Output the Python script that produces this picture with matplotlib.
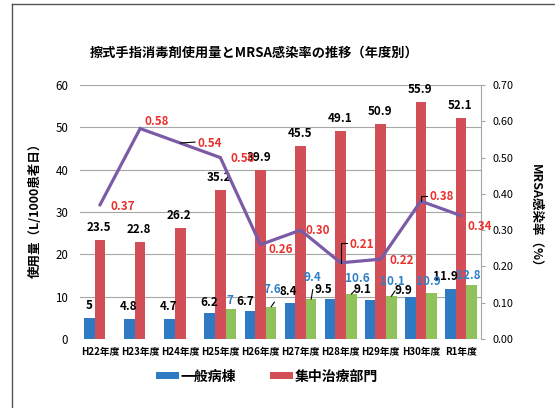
import matplotlib
matplotlib.use('Agg')
import matplotlib.pyplot as plt
from matplotlib.lines import Line2D
import numpy as np

plt.rcParams['font.family'] = ['Noto Sans CJK JP', 'DejaVu Sans']

years = ['H22年度', 'H23年度', 'H24年度', 'H25年度', 'H26年度',
         'H27年度', 'H28年度', 'H29年度', 'H30年度', 'R1年度']
generalWard = [5, 4.8, 4.7, 6.2, 6.7, 8.4, 9.5, 9.1, 9.9, 11.9]
icuDept = [23.5, 22.8, 26.2, 35.2, 39.9, 45.5, 49.1, 50.9, 55.9, 52.1]
thirdSeries = [None, None, None, 7, 7.6, 9.4, 10.6, 10.1, 10.9, 12.8]
mrsaRate = [0.37, 0.58, 0.54, 0.50, 0.26, 0.30, 0.21, 0.22, 0.38, 0.34]

BLUE = '#2E7BC4'
RED = '#D24F58'
GREEN = '#8FC25A'
PURPLE = '#7B5BA6'
RED_TEXT = '#E8322E'
BLUE_TEXT = '#2F7FC8'
GRID = '#A6A6A6'

# label offsets in pixels (x, y up) from the top of each mark
blueOffsets = [(0, 12), (-1, 12.5), (-1, 12.5), (0, 10), (-4.5, 9.6),
               (-2, 11.7), (-7, 8.8), (-8, 10.5), (-6.4, 7), (-4.6, 12.6)]
greenOffsets = {3: (-1.4, 8.7), 4: (1.4, 17.8), 5: (1, 22), 6: (5.6, 16),
                7: (0.7, 14.5), 8: (-3.5, 11.2), 9: (-3.7, 9.8)}
redOffset = (-1, 12.5)
mrsaOffsets = [(23, -2), (16.7, 6.8), (29.5, 0), (22.3, -1.4), (20, -4.7),
               (17, 0), (20.7, 17.8), (21.5, -1.5), (21.3, 4.4), (19, -11)]
# leader lines starting at green bar tops
barLeaders = {4: (3.4, 4.8), 5: (1.6, 9.7), 6: (3.9, 4.1), 7: (3.7, 5.5)}

fig = plt.figure(figsize=(5.55, 4.08), dpi=100)
ax = fig.add_axes([80 / 555, 69 / 408, 401 / 555, 254 / 408])
ax2 = ax.twinx()

x = np.arange(len(years))
w = 0.265
greenIdx = [i for i, v in enumerate(thirdSeries) if v is not None]
greenVals = [thirdSeries[i] for i in greenIdx]

blueBars = ax.bar(x - w, generalWard, w, color=BLUE, label='一般病棟')
redBars = ax.bar(x, icuDept, w, color=RED, label='集中治療部門')
ax.bar(np.array(greenIdx) + w, greenVals, w, color=GREEN)

lblFont = dict(fontsize=8.4, fontweight='bold', ha='center', va='center')
for i, v in enumerate(generalWard):
    ax.annotate('%g' % v, (x[i] - w, v), xytext=blueOffsets[i],
                textcoords='offset pixels', color='black', **lblFont)
for i, v in enumerate(icuDept):
    ax.annotate('%g' % v, (x[i], v), xytext=redOffset,
                textcoords='offset pixels', color='black', **lblFont)
for i, v in zip(greenIdx, greenVals):
    ax.annotate('%g' % v, (x[i] + w, v), xytext=greenOffsets[i],
                textcoords='offset pixels', color=BLUE_TEXT, **lblFont)
for i, off in barLeaders.items():
    ax.annotate('', (x[i] + w, thirdSeries[i]), xytext=off, textcoords='offset pixels',
                arrowprops=dict(arrowstyle='-', lw=0.8, color='black', shrinkA=0, shrinkB=0))

ax2.plot(x, mrsaRate, color=PURPLE, lw=2.3, solid_joinstyle='miter')
for i, v in enumerate(mrsaRate):
    ax2.annotate('%.2f' % v, (x[i], v), xytext=mrsaOffsets[i],
                 textcoords='offset pixels', color=RED_TEXT, **lblFont)
ax2.annotate('', (x[2], mrsaRate[2]), xytext=(15, 1), textcoords='offset pixels',
             arrowprops=dict(arrowstyle='-', lw=0.8, color='black', shrinkA=0, shrinkB=0))
for i, off in [(6, (6.7, 19.8)), (8, (6.3, 5))]:
    ax2.annotate('', (x[i], mrsaRate[i]), xytext=off, textcoords='offset pixels',
                 arrowprops=dict(arrowstyle='-', lw=0.8, color='black', shrinkA=0, shrinkB=0,
                                 connectionstyle='angle,angleA=0,angleB=90,rad=0'))

ax.set_xlim(-0.5, len(years) - 0.5)
ax.set_ylim(0, 60)
ax.set_yticks(np.arange(0, 61, 10))
ax2.set_ylim(0, 0.7)
ax2.set_yticks(np.arange(0, 0.71, 0.1))
ax2.set_yticklabels(['%.2f' % t for t in np.arange(0, 0.71, 0.1)])

ax.set_xticks(x)
ax.set_xticklabels(years, fontsize=7, fontweight='bold')
ax.tick_params(axis='x', length=0, pad=6)
ax.tick_params(axis='y', length=0, pad=8.5, labelsize=8.3)
ax2.tick_params(axis='y', length=3, pad=5, labelsize=7.8, color=GRID)

ax.set_axisbelow(True)
ax.grid(axis='y', color=GRID, lw=0.8)
for s in ax.spines.values():
    s.set_visible(False)
for name, s in ax2.spines.items():
    s.set_visible(name == 'right')
ax2.spines['right'].set_color(GRID)

fig.text(254 / 555, 1 - 53 / 408, '擦式手指消毒剤使用量とMRSA感染率の推移（年度別）',
         ha='center', va='center', fontsize=9.5, fontweight='bold')
fig.text(35 / 555, 1 - 207.5 / 408, '使用量（L/1000患者日）', rotation=90,
         ha='center', va='center', fontsize=9, fontweight='bold')
fig.text(536 / 555, 1 - 218.5 / 408, 'MRSA感染率（%）', rotation=270,
         ha='center', va='center', fontsize=9, fontweight='bold')

fig.legend(handles=[blueBars, redBars], loc='center', bbox_to_anchor=(267 / 555, 1 - 376.5 / 408),
           ncol=2, frameon=False, prop=dict(size=10, weight='bold'),
           handlelength=1.65, handleheight=0.43, handletextpad=0.15, columnspacing=2.4)

# outer frame of the pasted chart
fx, fy = 12 / 555, 1 - 4 / 408
fig.add_artist(Line2D([fx, fx], [0, fy], color='#555555', lw=1))
fig.add_artist(Line2D([fx, 1], [fy, fy], color='#555555', lw=1))

fig.savefig('out.png', dpi=100)
